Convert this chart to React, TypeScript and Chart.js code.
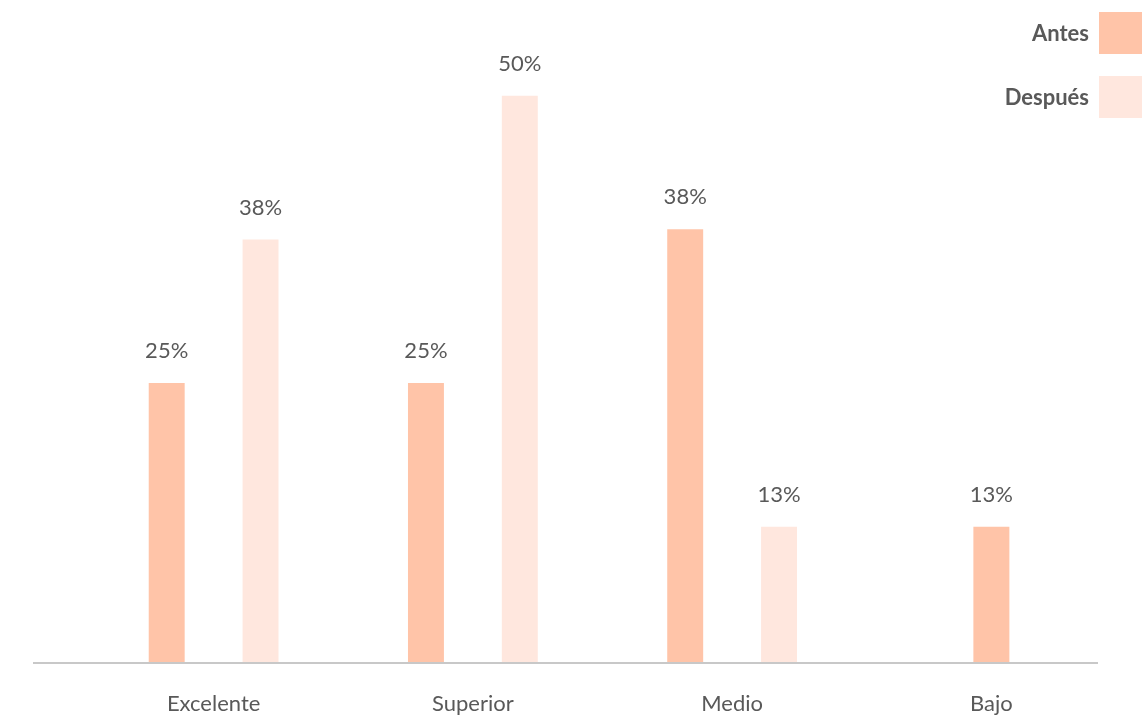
import React, { useEffect, useRef } from "react";
import { Chart, registerables } from "chart.js";

Chart.register(...registerables);

const categories = ["Excelente", "Superior", "Medio", "Bajo"];
const antesValues = [25, 25, 38.4, 12.5];
const despuesValues: (number | null)[] = [37.5, 50, 12.5, null];
const seriesNames = ["Antes", "Después"];
const seriesColors = ["#FFC4A8", "#FFE7DE"];

const FONT = "Lato, 'Noto Sans', sans-serif";
const TEXT = "#595959";

const baselinePlugin = {
  id: "baseline",
  afterDatasetsDraw(chart: any) {
    const { ctx, chartArea } = chart;
    ctx.save();
    ctx.strokeStyle = "#C8C8C8";
    ctx.lineWidth = 2;
    ctx.beginPath();
    ctx.moveTo(33, chartArea.bottom + 1);
    ctx.lineTo(1098, chartArea.bottom + 1);
    ctx.stroke();
    ctx.restore();
  },
};

const valueLabelPlugin = {
  id: "valueLabels",
  afterDatasetsDraw(chart: any) {
    const { ctx } = chart;
    ctx.save();
    ctx.fillStyle = TEXT;
    ctx.font = `22px ${FONT}`;
    ctx.textAlign = "center";
    ctx.textBaseline = "middle";
    chart.data.datasets.forEach((ds: any, i: number) => {
      const meta = chart.getDatasetMeta(i);
      meta.data.forEach((el: any, j: number) => {
        const v = ds.data[j];
        if (v === null || v === undefined) return;
        ctx.fillText(`${Math.round(v)}%`, el.x, el.y - 32);
      });
    });
    ctx.restore();
  },
};

const legendPlugin = {
  id: "customLegend",
  afterDraw(chart: any) {
    const { ctx } = chart;
    ctx.save();
    ctx.font = `bold 22px ${FONT}`;
    ctx.textAlign = "right";
    ctx.textBaseline = "middle";
    chart.data.datasets.forEach((ds: any, i: number) => {
      const top = 12 + i * 64;
      ctx.fillStyle = ds.backgroundColor;
      ctx.fillRect(1099, top, 43, 42);
      ctx.fillStyle = TEXT;
      ctx.fillText(ds.label, 1089, top + 22);
    });
    ctx.restore();
  },
};

export default function App() {
  const ref = useRef<HTMLCanvasElement | null>(null);
  useEffect(() => {
    if (!ref.current) return;
    const chart = new Chart(ref.current, {
      type: "bar",
      data: {
        labels: categories,
        datasets: [
          {
            label: seriesNames[0],
            data: antesValues,
            backgroundColor: seriesColors[0],
            categoryPercentage: 0.724,
            barPercentage: 0.383,
            maxBarThickness: 36,
          },
          {
            label: seriesNames[1],
            data: despuesValues,
            backgroundColor: seriesColors[1],
            categoryPercentage: 0.724,
            barPercentage: 0.383,
            maxBarThickness: 36,
          },
        ],
      },
      options: {
        animation: false,
        responsive: true,
        maintainAspectRatio: false,
        skipNull: true,
        layout: { padding: { left: 84, right: 26, top: 20, bottom: 0 } },
        plugins: {
          legend: { display: false },
          tooltip: { enabled: false },
        },
        scales: {
          x: {
            grid: { display: false, drawTicks: false },
            border: { display: false },
            ticks: {
              color: TEXT,
              font: { family: FONT, size: 22 },
              padding: 29,
            },
            afterFit(scale: any) {
              scale.height = 55;
            },
          },
          y: {
            display: false,
            min: 0.73,
            max: 56.6,
          },
        },
      } as any,
      plugins: [baselinePlugin, valueLabelPlugin, legendPlugin],
    });
    return () => chart.destroy();
  }, []);
  return (
    <div style={{ position: "absolute", left: 0, top: 0, width: 1147, height: 717 }}>
      <canvas ref={ref} />
    </div>
  );
}
